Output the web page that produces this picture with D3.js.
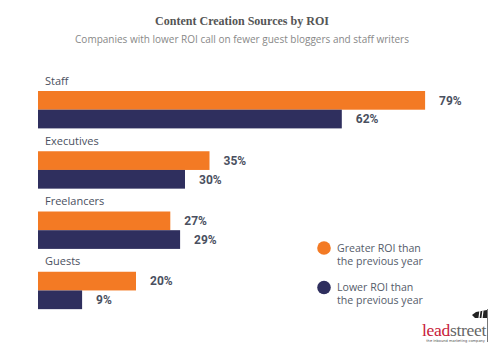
<!DOCTYPE html>
<html>
<head>
<meta charset="utf-8">
<script src="https://cdn.jsdelivr.net/npm/d3@7"></script>
<style>
  body { margin: 0; background: #fff; }
  svg { display: block; }
</style>
</head>
<body>
<div id="chart"></div>
<script>
// data
const categories = ["Staff", "Executives", "Freelancers", "Guests"];
const greaterROI = [79, 35, 27, 20];
const lowerROI = [62, 30, 29, 9];
const seriesNames = ["Greater ROI than|the previous year", "Lower ROI than|the previous year"];

const COLORS = ["#f37a24", "#2f2f5e"];

const width = 500, height = 350;
const svg = d3.select("#chart").append("svg")
  .attr("width", width)
  .attr("height", height);

// titles
svg.append("text")
  .attr("x", 242).attr("y", 25)
  .attr("text-anchor", "middle")
  .attr("font-family", "'Liberation Serif', serif")
  .attr("font-weight", "bold")
  .attr("font-size", 13)
  .attr("textLength", 174)
  .attr("lengthAdjust", "spacingAndGlyphs")
  .attr("fill", "#555")
  .text("Content Creation Sources by ROI");

svg.append("text")
  .attr("x", 242).attr("y", 43)
  .attr("text-anchor", "middle")
  .attr("font-family", "'Open Sans', sans-serif")
  .attr("font-size", 10)
  .attr("fill", "#888")
  .text("Companies with lower ROI call on fewer guest bloggers and staff writers");

// scales
const x = d3.scaleLinear().domain([0, 100]).range([38, 528]);
const y = d3.scaleBand().domain(categories).range([71, 312]).paddingInner(0).paddingOuter(0);
const barH = 18.7;
const barOffset = 20; // label sits above the bars

const rows = categories.map((c, i) => ({ cat: c, vals: [greaterROI[i], lowerROI[i]] }));

const g = svg.append("g");

rows.forEach(row => {
  const top = y(row.cat);

  g.append("text")
    .attr("x", 45)
    .attr("y", top + 13.5)
    .attr("font-family", "'Open Sans', sans-serif")
    .attr("font-size", 11)
    .attr("fill", "#4a5060")
    .text(row.cat);

  row.vals.forEach((v, k) => {
    const by = top + barOffset + k * barH;
    g.append("rect")
      .attr("x", x(0))
      .attr("y", by)
      .attr("width", x(v) - x(0))
      .attr("height", barH)
      .attr("fill", COLORS[k]);

    g.append("text")
      .attr("x", x(v) + 14)
      .attr("y", by + barH / 2)
      .attr("dy", "0.35em")
      .attr("font-family", "Roboto, sans-serif")
      .attr("font-weight", "bold")
      .attr("font-size", 12)
      .attr("fill", "#4a5060")
      .text(v + "%");
  });
});

// legend
const legend = svg.append("g");
seriesNames.forEach((name, k) => {
  const ly = 248 + k * 39.5;
  legend.append("circle")
    .attr("cx", 324).attr("cy", ly)
    .attr("r", 6.8)
    .attr("fill", COLORS[k]);
  name.split("|").forEach((line, j) => {
    legend.append("text")
      .attr("x", 337)
      .attr("y", ly + j * 13)
      .attr("dy", "0.35em")
      .attr("font-family", "'Open Sans', sans-serif")
      .attr("font-size", 10.6)
      .attr("fill", "#555c6a")
      .text(line);
  });
});

// logo
const logo = svg.append("g");
const word = logo.append("text")
  .attr("x", 486).attr("y", 336)
  .attr("text-anchor", "end")
  .attr("font-family", "'Liberation Serif', serif")
  .attr("font-size", 17.5)
  .attr("letter-spacing", -0.3);
word.append("tspan").attr("fill", "#c8203a").text("lead");
word.append("tspan").attr("fill", "#666").text("street");

logo.append("text")
  .attr("x", 485).attr("y", 341.5)
  .attr("text-anchor", "end")
  .attr("font-family", "'DejaVu Sans', sans-serif")
  .attr("font-size", 3.6)
  .attr("fill", "#555")
  .text("the inbound marketing company");

logo.append("line")
  .attr("x1", 487.5).attr("x2", 487.5)
  .attr("y1", 309).attr("y2", 342)
  .attr("stroke", "#777").attr("stroke-width", 1);

// windsock
logo.append("path")
  .attr("d", "M487,310 L487,318 L475,318 L472,315 L476,312 Z")
  .attr("fill", "#222");
[480, 483].forEach(sx => {
  logo.append("line")
    .attr("x1", sx).attr("x2", sx - 1)
    .attr("y1", 310.5).attr("y2", 318)
    .attr("stroke", "#fff").attr("stroke-width", 1.2);
});
</script>
</body>
</html>
